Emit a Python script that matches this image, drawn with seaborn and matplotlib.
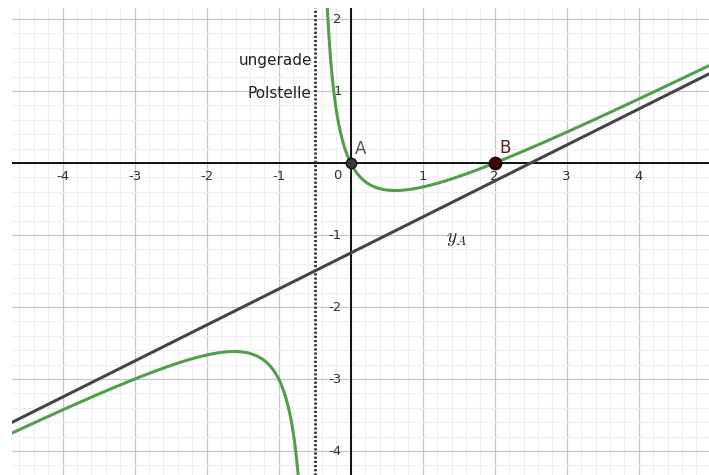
import numpy as np
import matplotlib
matplotlib.use("Agg")
import matplotlib.pyplot as plt
import seaborn as sns

# Rational function f(x) = k * (x - z1)(x - z2) / (x - p)
zeros = [0.0, 2.0]          # zeros of f (points A and B)
pole = -0.5                 # odd pole (vertical asymptote)
lead = 0.5                  # leading factor, slope of the oblique asymptote
asym_slope = 0.5
asym_intercept = -1.25      # oblique asymptote y_A = 0.5 x - 1.25

point_names = ["A", "B"]
x_ticks = [-4, -3, -2, -1, 1, 2, 3, 4]
y_ticks = [-4, -3, -2, -1, 1, 2]
pole_text = ["ungerade", "Polstelle"]

xmin, xmax = -4.704, 4.976
ymin, ymax = -4.333, 2.153


def f(x):
    return lead * (x - zeros[0]) * (x - zeros[1]) / (x - pole)


sns.set_style("white")
plt.rcParams["font.family"] = ["DejaVu Sans"]
plt.rcParams["mathtext.fontset"] = "cm"

fig = plt.figure(figsize=(7.09, 4.75), dpi=100)
ax = fig.add_axes([12 / 709, 0, 697 / 709, 467 / 475])
ax.set_xlim(xmin, xmax)
ax.set_ylim(ymin, ymax)

# grid: major every unit, minor every 0.2
ax.set_xticks(np.arange(-4, 5, 1))
ax.set_yticks(np.arange(-4, 3, 1))
ax.set_xticks(np.arange(-4.6, 5.0, 0.2), minor=True)
ax.set_yticks(np.arange(-4.2, 2.2, 0.2), minor=True)
ax.grid(which="minor", color="#eeeeee", lw=0.8, zorder=0)
ax.grid(which="major", color="#c8c8c8", lw=0.9, zorder=0)
ax.tick_params(which="both", length=0, labelbottom=False, labelleft=False)
for s in ax.spines.values():
    s.set_visible(False)
ax.set_axisbelow(True)

# coordinate axes
ax.axhline(0, color="black", lw=1.3, zorder=2)
ax.axvline(0, color="black", lw=1.3, zorder=2)

# tick labels next to the axes
for t in x_ticks:
    ax.annotate(str(t), (t, 0), xytext=(0, -10),
                textcoords="offset points", ha="center", va="center",
                fontsize=9.5, color="#333333")
for t in y_ticks:
    ax.annotate(str(t), (0, t), xytext=(-6.5, 0),
                textcoords="offset points", ha="right", va="center",
                fontsize=9.5, color="#333333")
ax.annotate("0", (0, 0), xytext=(-6.5, -9), textcoords="offset points",
            ha="right", va="center", fontsize=9.5, color="#333333")

# vertical asymptote at the pole
ax.axvline(pole, color="#333333", lw=2.0, linestyle=(0, (0.8, 0.7)),
           dash_capstyle="butt", zorder=3)
ax.text(pole - 0.04, 1.42, pole_text[0], ha="right", va="center",
        fontsize=11, color="#222222")
ax.text(pole - 0.04, 0.96, pole_text[1], ha="right", va="center",
        fontsize=11, color="#222222")

# oblique asymptote
xl = np.linspace(xmin, xmax, 50)
sns.lineplot(x=xl, y=asym_slope * xl + asym_intercept, ax=ax,
             color="#454545", lw=2.2, sort=False, estimator=None, zorder=4)
ax.text(1.33, -1.05, r"$y_A$", fontsize=14, color="#222222", ha="left",
        va="center")

# graph of f, two branches either side of the pole
xa = np.linspace(xmin, pole - 1e-4, 800)
xb = np.linspace(pole + 1e-4, xmax, 800)
for xs in (xa, xb):
    ys = f(xs)
    keep = (ys > ymin - 1) & (ys < ymax + 1)
    sns.lineplot(x=xs[keep], y=ys[keep], ax=ax, color="#529e4a", lw=2.2,
                 sort=False, estimator=None, zorder=5)

# zeros A and B
sns.scatterplot(x=[zeros[0]], y=[f(zeros[0])], ax=ax, s=55,
                color="#3a3a3a", edgecolor="#111111", linewidth=1, zorder=6)
sns.scatterplot(x=[zeros[1]], y=[f(zeros[1])], ax=ax, s=78,
                color="#3d0505", edgecolor="#1a0000", linewidth=1, zorder=6)
ax.text(zeros[0] + 0.06, 0.19, point_names[0], fontsize=12,
        color="#505050", ha="left", va="center")
ax.text(zeros[1] + 0.06, 0.21, point_names[1], fontsize=12,
        color="#5e1f1f", ha="left", va="center")

fig.savefig("out.png", dpi=100)
